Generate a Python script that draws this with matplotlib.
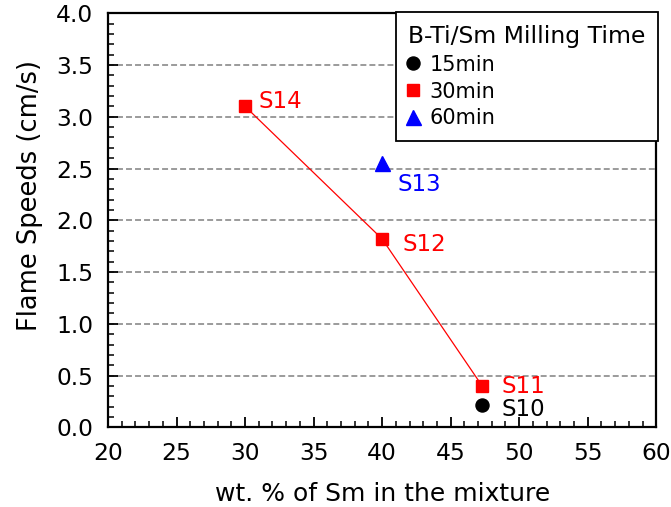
import matplotlib
matplotlib.use("Agg")
import matplotlib.pyplot as plt
from matplotlib.ticker import MultipleLocator, FormatStrFormatter

plt.rcParams['font.family'] = ['DejaVu Sans']

# Flame speed measurements by milling time
sm_15 = [47.3]
v_15 = [0.22]
lab_15 = ["S10"]

sm_30 = [30.0, 40.0, 47.3]
v_30 = [3.10, 1.82, 0.40]
lab_30 = ["S14", "S12", "S11"]

sm_60 = [40.0]
v_60 = [2.55]
lab_60 = ["S13"]

legend_names = ["15min", "30min", "60min"]
grid_levels = [0.5, 1.0, 1.5, 2.0, 2.5, 3.0, 3.5]

fig = plt.figure(figsize=(6.71, 5.07), dpi=100)
ax = fig.add_axes([0.161, 0.157, 0.817, 0.817])

ax.set_xlim(20, 60)
ax.set_ylim(0, 4.0)

for y in grid_levels:
    ax.axhline(y, color="#808080", lw=1.1, ls=(0, (3.9, 2.0)), zorder=1)

ax.plot(sm_15, v_15, 'o', color='black', ms=9.4, zorder=3, label=legend_names[0])
ax.plot(sm_30, v_30, '-', color='red', lw=0.9, zorder=2)
ax.plot(sm_30, v_30, 's', color='red', ms=8.6, zorder=3, label=legend_names[1])
ax.plot(sm_60, v_60, '^', color='blue', ms=10.8, zorder=3, label=legend_names[2])

# point labels (offsets in points, text anchored at baseline)
fs_lab = 16.5
offsets_30 = [(10, -1.4), (14.4, -8.6), (13.6, -5.0)]
for x, y, t, off in zip(sm_30, v_30, lab_30, offsets_30):
    ax.annotate(t, (x, y), xytext=off, textcoords='offset points',
                color='red', fontsize=fs_lab, va='baseline', ha='left')
for x, y, t in zip(sm_15, v_15, lab_15):
    ax.annotate(t, (x, y), xytext=(13.6, -8.5), textcoords='offset points',
                color='black', fontsize=fs_lab, va='baseline', ha='left')
for x, y, t in zip(sm_60, v_60, lab_60):
    ax.annotate(t, (x, y), xytext=(10.8, -19.8), textcoords='offset points',
                color='blue', fontsize=fs_lab, va='baseline', ha='left')

ax.xaxis.set_major_locator(MultipleLocator(5))
ax.xaxis.set_minor_locator(MultipleLocator(1))
ax.yaxis.set_major_locator(MultipleLocator(0.5))
ax.yaxis.set_minor_locator(MultipleLocator(0.1))
ax.yaxis.set_major_formatter(FormatStrFormatter('%.1f'))
ax.tick_params(which='major', direction='in', length=7, width=1.3,
               labelsize=16.8, pad=10.8, top=False, right=False)
ax.tick_params(which='minor', direction='in', length=4, width=1.1,
               top=False, right=False)
for s in ax.spines.values():
    s.set_linewidth(1.6)

ax.set_xlabel("wt. % of Sm in the mixture", fontsize=18, labelpad=12)
ax.set_ylabel("Flame Speeds (cm/s)", fontsize=18.5, labelpad=9)
ax.yaxis.label.set_y(0.56)

leg = ax.legend(title="B-Ti/Sm Milling Time", loc='upper right',
                bbox_to_anchor=(1.003, 1.002), fontsize=15, title_fontsize=16.9,
                frameon=True, fancybox=False, framealpha=1, edgecolor='black',
                handlelength=0.5, handletextpad=0.53, borderpad=0.6,
                labelspacing=0.33, alignment='left', borderaxespad=0)
leg.get_frame().set_linewidth(1.3)

fig.savefig("out.png", dpi=100)
